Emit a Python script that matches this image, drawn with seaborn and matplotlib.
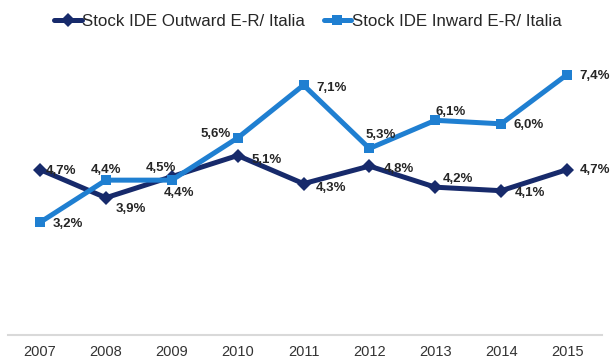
import pandas as pd
import matplotlib
matplotlib.use("Agg")
import matplotlib.pyplot as plt
import seaborn as sns

# ── Dati ──────────────────────────────────────────────────────────────────────
years    = ["2007", "2008", "2009", "2010", "2011", "2012", "2013", "2014", "2015"]
outward  = [4.7, 3.9, 4.5, 5.1, 4.3, 4.8, 4.2, 4.1, 4.7]
inward   = [3.2, 4.4, 4.4, 5.6, 7.1, 5.3, 6.1, 6.0, 7.4]
lab_out  = "Stock IDE Outward E-R/ Italia"
lab_in   = "Stock IDE Inward E-R/ Italia"

# offset etichette (punti) – solo stile
off_out = [(4, -1, "left"), (7, -8, "left"), (-8, 6, "center"), (10, -3, "left"),
           (9, -3, "left"), (10, -2, "left"), (5, 6, "left"), (10, -2, "left"),
           (9, 0, "left")]
off_in  = [(9, -1, "left"), (0, 7, "center"), (5, -9, "center"), (-5, 3, "right"),
           (9, -2, "left"), (8, 10, "center"), (0, 6, "left"), (9, -1, "left"),
           (9, -1, "left")]

C_OUT = "#172a6b"
C_IN  = "#1f7fd1"

df = pd.DataFrame({
    "x": list(range(len(years))) * 2,
    "val": outward + inward,
    "serie": [lab_out] * len(years) + [lab_in] * len(years),
})

sns.set_theme(style="white")
plt.rcParams["font.family"] = ["Liberation Sans", "DejaVu Sans"]

fig = plt.figure(figsize=(6.1, 3.58), dpi=100)
ax = fig.add_axes([8 / 610, 23 / 358, 594 / 610, 290 / 358])

sns.lineplot(data=df, x="x", y="val", hue="serie", style="serie",
             markers={lab_out: "D", lab_in: "s"}, dashes=False,
             palette={lab_out: C_OUT, lab_in: C_IN},
             linewidth=3.6, markersize=7.5, markeredgewidth=0, ax=ax)

for vals, offs in ((outward, off_out), (inward, off_in)):
    for i, (v, (dx, dy, ha)) in enumerate(zip(vals, offs)):
        ax.annotate(f"{v:.1f}%".replace(".", ","), (i, v), xytext=(dx, dy),
                    textcoords="offset points", ha=ha, va="center",
                    fontsize=9.5, fontweight="bold", color="#262626")

ax.set_xlim(-0.486, 8.53)
ax.set_ylim(0, 8.24)
ax.set_xticks(range(len(years)))
ax.set_xticklabels(years, fontsize=10.5, color="#333333")
ax.set_yticks([])
ax.set_xlabel("")
ax.set_ylabel("")
ax.tick_params(axis="x", length=0, pad=7)
for s in ("top", "right", "left"):
    ax.spines[s].set_visible(False)
ax.spines["bottom"].set_color("#d9d9d9")
ax.spines["bottom"].set_linewidth(1.5)

handles, labels = ax.get_legend_handles_labels()
ax.get_legend().remove()
fig.legend(handles, labels, loc="center", bbox_to_anchor=(0.505, 1 - 21 / 358),
           ncol=2, frameon=False, fontsize=12.2, handlelength=1.6,
           handletextpad=0.05, columnspacing=1.1)

plt.savefig("out.png", dpi=100)
plt.close()
